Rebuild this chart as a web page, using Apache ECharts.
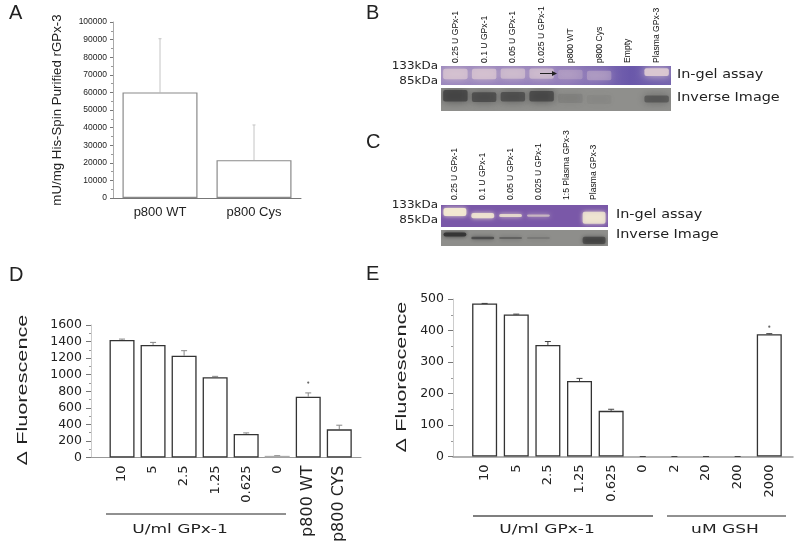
<!DOCTYPE html>
<html><head><meta charset="utf-8">
<style>html,body{margin:0;padding:0;background:#fff}#c{width:800px;height:560px}</style>
<script src="https://cdn.jsdelivr.net/npm/echarts@6/dist/echarts.min.js"></script>
</head><body><div id="c"></div>
<script>
// Panel A
const aCats = ['p800 WT', 'p800 Cys'];
const aVals = [60000, 21500];
const aErrTop = [90500, 41500];
// Panel D
const dCats = ['10', '5', '2.5', '1.25', '0.625', '0', 'p800 WT', 'p800 CYS'];
const dVals = [1420, 1360, 1230, 970, 285, 20, 735, 340];
const dErrTop = [1430, 1390, 1290, 980, 297, 22, 780, 390];
const dStar = [[6, 905]];
// Panel E
const eCats = ['10', '5', '2.5', '1.25', '0.625', '0', '2', '20', '200', '2000'];
const eVals = [486, 451, 354, 240, 145, 0, 0, 0, 0, 388];
const eErrTop = [486, 452, 365, 248, 150, 0, 0, 0, 0, 390];
const eStar = [[9, 412]];
// Gels: relative band strength, thickness and height per lane
const bLanes = ['0.25 U GPx-1', '0.1 U GPx-1', '0.05 U GPx-1', '0.025 U GPx-1', 'p800 WT', 'p800 Cys', 'Empty', 'Plasma GPx-3'];
const bGel = [0.72, 0.72, 0.62, 0.62, 0.28, 0.34, 0, 0.95];
const bGelThick = [0.55, 0.55, 0.55, 0.55, 0.5, 0.5, 0, 0.4];
const bGelCentre = [0.58, 0.58, 0.6, 0.6, 0.55, 0.5, 0, 0.68];
const bInv = [0.78, 0.68, 0.66, 0.74, 0.12, 0.06, 0, 0.55];
const bInvThick = [0.5, 0.42, 0.42, 0.45, 0.4, 0.4, 0, 0.3];
const bInvCentre = [0.66, 0.6, 0.62, 0.64, 0.55, 0.5, 0, 0.52];
const cLanes = ['0.25 U GPx-1', '0.1 U GPx-1', '0.05 U GPx-1', '0.025 U GPx-1', '1:5 Plasma GPx-3', 'Plasma GPx-3'];
const cGel = [0.95, 0.85, 0.8, 0.55, 0, 0.8];
const cGelThick = [0.36, 0.24, 0.14, 0.1, 0, 0.55];
const cGelCentre = [0.68, 0.52, 0.52, 0.52, 0, 0.42];
const cInv = [0.85, 0.6, 0.5, 0.22, 0, 0.55];
const cInvThick = [0.26, 0.16, 0.1, 0.08, 0, 0.45];
const cInvCentre = [0.72, 0.5, 0.5, 0.5, 0, 0.35];

const WIDE = '"DejaVu Sans"';
const HELV = '"Liberation Sans"';

const grid = [], xAxis = [], yAxis = [], series = [];
const plain = v => String(v);

function errSeries(gi, errTop, vals, color, capW) {
  series.push({
    type: 'custom', xAxisIndex: gi, yAxisIndex: gi, silent: true, z: 1,
    data: errTop.map((t, i) => [i, vals[i], t]),
    renderItem(p, api) {
      const a = api.coord([api.value(0), api.value(1)]);
      const b = api.coord([api.value(0), api.value(2)]);
      return { type: 'group', children: [
        { type: 'line', shape: { x1: a[0], y1: a[1], x2: b[0], y2: b[1] }, style: { stroke: color, lineWidth: 1 } },
        { type: 'line', shape: { x1: b[0] - capW, y1: b[1], x2: b[0] + capW, y2: b[1] }, style: { stroke: color, lineWidth: 1 } }
      ] };
    }
  });
}

// ---- Panel A
grid.push({ left: 113, top: 22, width: 188, height: 176, outerBoundsMode: 'none' });
xAxis.push({ gridIndex: 0, type: 'category', data: aCats,
  axisLine: { lineStyle: { color: '#777', width: 1 } }, axisTick: { show: false },
  axisLabel: { fontFamily: HELV, fontSize: 13, color: '#222', margin: 8 } });
yAxis.push({ gridIndex: 0, type: 'value', min: 0, max: 100000, interval: 10000,
  name: 'mU/mg His-Spin Purified rGPx-3', nameLocation: 'middle', nameGap: 49,
  nameTextStyle: { fontFamily: HELV, fontSize: 13.3, color: '#222' },
  axisLine: { show: true, lineStyle: { color: '#aaa' } },
  axisTick: { show: true, length: 3, lineStyle: { color: '#777' } },
  minorTick: { show: true, splitNumber: 2, length: 2, lineStyle: { color: '#999' } },
  splitLine: { show: false },
  axisLabel: { fontFamily: HELV, fontSize: 8.5, color: '#222', margin: 6, formatter: plain } });
errSeries(0, aErrTop, aVals, '#c4c4c4', 1.5);
series.push({ type: 'bar', xAxisIndex: 0, yAxisIndex: 0, data: aVals, barWidth: 75, z: 2,
  itemStyle: { color: '#fff', borderColor: '#8a8a8a', borderWidth: 1.2 } });

// ---- Panels D / E
function fluor(gi, cfg) {
  grid.push(Object.assign({ outerBoundsMode: 'none' }, cfg.grid));
  xAxis.push({ gridIndex: gi, type: 'value', min: -1, max: cfg.xMax, interval: 1,
    splitLine: { show: false }, axisTick: { show: false },
    axisLine: { onZero: false, lineStyle: { color: '#999', width: cfg.axisW } },
    axisLabel: { rotate: 90, margin: 8, showMinLabel: false, showMaxLabel: false, hideOverlap: false,
      fontFamily: WIDE, fontSize: 13, color: '#222',
      formatter(v) { const t = cfg.cats[v]; return t === undefined ? '' : (t.startsWith('p800') ? '{big|' + t + '}' : t); },
      rich: { big: { fontFamily: WIDE, fontSize: 16, color: '#222' } } } });
  yAxis.push({ gridIndex: gi, type: 'value', min: 0, max: cfg.yMax, interval: cfg.yInt,
    axisLine: { show: true, onZero: false, lineStyle: { color: '#ccc' } },
    axisTick: { show: true, length: 5, lineStyle: { color: '#777' } },
    minorTick: { show: true, splitNumber: 2, length: 2, lineStyle: { color: '#999' } },
    splitLine: { show: false },
    axisLabel: { fontFamily: WIDE, fontSize: 12.5, color: '#222', margin: 9, formatter: plain } });
  errSeries(gi, cfg.err, cfg.vals, cfg.errColor, 3);
  series.push({ type: 'bar', xAxisIndex: gi, yAxisIndex: gi, barWidth: 25, z: 2,
    data: cfg.vals.map((v, i) => ({ value: [i, v],
      itemStyle: v === 0 ? { borderColor: 'transparent' } : (v < 30 ? { borderColor: '#aaa' } : {}) })),
    itemStyle: { color: '#fff', borderColor: '#333', borderWidth: 1.3 } });
  series.push({ type: 'scatter', xAxisIndex: gi, yAxisIndex: gi, data: cfg.star, symbolSize: 2.2, z: 3,
    itemStyle: { color: '#444' } });
}
fluor(1, { grid: { left: 91, top: 325, width: 270, height: 132.5 }, cats: dCats, vals: dVals, err: dErrTop, star: dStar,
  xMax: 7.7, yMax: 1600, yInt: 200, errColor: '#888', axisW: 1 });
fluor(2, { grid: { left: 453, top: 299, width: 340, height: 157.5 }, cats: eCats, vals: eVals, err: eErrTop, star: eStar,
  xMax: 9.75, yMax: 500, yInt: 100, errColor: '#444', axisW: 1.5 });

// ---- Gels
function gel(gi, g, lanes, strengths, thick, centre, bg, bandColor, labelMargin, blur, laneFill) {
  grid.push({ left: g.left, top: g.top, width: g.width, height: g.height, show: true, backgroundColor: bg, borderWidth: 0, outerBoundsMode: 'none' });
  xAxis.push({ gridIndex: gi, type: 'category', data: lanes, position: 'top',
    axisLine: { show: false }, axisTick: { show: false },
    axisLabel: labelMargin ? { show: true, interval: 0, rotate: 90, margin: labelMargin, fontFamily: HELV, fontSize: 8.6, color: '#111' } : { show: false } });
  yAxis.push({ gridIndex: gi, type: 'value', min: 0, max: 1, show: false });
  series.push({ type: 'custom', xAxisIndex: gi, yAxisIndex: gi, silent: true, clip: true,
    data: strengths.map((s, i) => [i, s, thick[i], centre[i]]),
    renderItem(p, api) {
      const s = api.value(1);
      if (!s) return { type: 'group', children: [] };
      const c = api.coord([api.value(0), api.value(3)]);
      const w = api.size([1, 0])[0] * laneFill;
      const h = api.size([0, api.value(2)])[1];
      return { type: 'rect', shape: { x: c[0] - w / 2, y: c[1] - h / 2, width: w, height: h, r: 2 },
        style: { fill: bandColor, opacity: s, shadowBlur: blur, shadowColor: bandColor } };
    } });
}
gel(3, { left: 441, top: 66, width: 230, height: 19 }, bLanes, bGel, bGelThick, bGelCentre,
  { type: 'linear', x: 0, y: 0, x2: 1, y2: 0, colorStops: [{ offset: 0, color: '#9a86bd' }, { offset: 0.55, color: '#8f7ab8' }, { offset: 0.82, color: '#6a58aa' }, { offset: 1, color: '#7463ad' }] },
  '#dcc9d2', 3, 9, 0.85);
gel(4, { left: 441, top: 88, width: 230, height: 23 }, bLanes, bInv, bInvThick, bInvCentre, '#8f8f8c', '#3e3e3e', 0, 9, 0.85);
gel(5, { left: 441, top: 205, width: 167, height: 22 }, cLanes, cGel, cGelThick, cGelCentre, '#7a58a8', '#f3ead2', 5, 4, 0.82);
gel(6, { left: 441, top: 230, width: 167, height: 16 }, cLanes, cInv, cInvThick, cInvCentre, '#8e8e8b', '#2e2e2e', 0, 4, 0.82);

// ---- Free text and group rules
const txt = (x, y, text, size, font, align, scaleX) => ({ type: 'text', x, y, scaleX: scaleX || 1,
  style: { text, fontSize: size, fontFamily: font || HELV, fill: '#222', align: align || 'left', verticalAlign: 'middle' } });
const vtxt = (x, y, text, size, scaleX) => ({ type: 'text', x, y, rotation: Math.PI / 2, scaleX,
  style: { text, fontSize: size, fontFamily: HELV, fill: '#222', align: 'center', verticalAlign: 'middle' } });
const rule = (x1, x2, y, w, c) => ({ type: 'line', z: 100, shape: { x1, y1: y, x2, y2: y }, style: { stroke: c, lineWidth: w } });
const graphic = [
  txt(9, 13, 'A', 20), txt(366, 13, 'B', 20), txt(366, 142, 'C', 20), txt(9, 275, 'D', 20), txt(366, 274, 'E', 20),
  txt(438, 66, '133kDa', 10.5, WIDE, 'right', 1.14), txt(438, 81, '85kDa', 10.5, WIDE, 'right', 1.14),
  txt(438, 205, '133kDa', 10.5, WIDE, 'right', 1.14), txt(438, 220, '85kDa', 10.5, WIDE, 'right', 1.14),
  txt(677, 75, 'In-gel assay', 12, WIDE, 'left', 1.2), txt(677, 98, 'Inverse Image', 12, WIDE, 'left', 1.2),
  txt(616, 215, 'In-gel assay', 12, WIDE, 'left', 1.2), txt(616, 235, 'Inverse Image', 12, WIDE, 'left', 1.2),
  rule(106, 286, 514, 1, '#222'), txt(180, 530, 'U/ml GPx-1', 12, WIDE, 'center', 1.42),
  rule(473, 653, 516, 1.6, '#555'), txt(547, 530, 'U/ml GPx-1', 12, WIDE, 'center', 1.42),
  rule(667, 786, 516, 1, '#222'), txt(725, 530, 'uM GSH', 12, WIDE, 'center', 1.42),
  vtxt(23, 390, '\u0394 Fluorescence', 14, 1.55), vtxt(402, 377, '\u0394 Fluorescence', 14, 1.55),
  rule(540, 553, 73.5, 1, '#222'),
  { type: 'polygon', z: 100, shape: { points: [[552, 71], [557, 73.5], [552, 76]] }, style: { fill: '#222' } }
];

const chart = echarts.init(document.getElementById('c'), null, { renderer: 'canvas' });
chart.setOption({ animation: false, backgroundColor: '#fff', grid, xAxis, yAxis, series, graphic });
</script></body></html>
